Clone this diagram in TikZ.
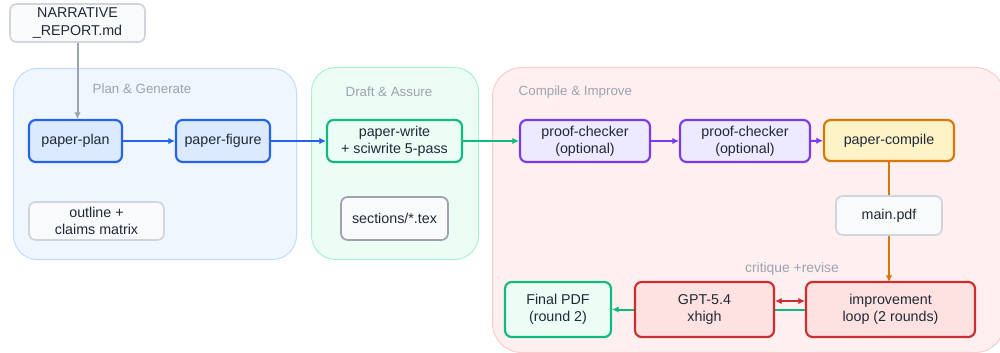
\documentclass[tikz,border=0pt]{standalone}
\usepackage{fontspec}
\setmainfont{Liberation Sans}
\usetikzlibrary{arrows.meta}
\definecolor{txt}{HTML}{1F2937}
\definecolor{grouplbl}{HTML}{9CA3AF}
\definecolor{bluefill}{HTML}{EFF6FF}
\definecolor{blueedge}{HTML}{BFDBFE}
\definecolor{greenfill}{HTML}{ECFDF5}
\definecolor{greenedge}{HTML}{A7F3D0}
\definecolor{redfill}{HTML}{FEF0F0}
\definecolor{rededge}{HTML}{FECACA}
\definecolor{bnode}{HTML}{DBEAFE}
\definecolor{bline}{HTML}{2563EB}
\definecolor{gnode}{HTML}{ECFDF5}
\definecolor{gline}{HTML}{10B981}
\definecolor{vnode}{HTML}{EDE9FE}
\definecolor{vline}{HTML}{7C3AED}
\definecolor{onode}{HTML}{FEF3C7}
\definecolor{oline}{HTML}{D97706}
\definecolor{rnode}{HTML}{FEE2E2}
\definecolor{rline}{HTML}{CC2E2E}
\definecolor{artfill}{HTML}{F9FAFB}
\definecolor{artline}{HTML}{D1D5DB}
\definecolor{darkgrey}{HTML}{9CA3AF}
\begin{document}
\begin{tikzpicture}[x=0.75pt,y=-0.75pt,
  font=\fontsize{10.7pt}{13pt}\selectfont,
  group/.style={draw, line width=0.75pt, rounded corners=18pt, inner sep=0pt, anchor=north west},
  glabel/.style={text=grouplbl, font=\fontsize{10pt}{12pt}\selectfont},
  box/.style={draw, line width=1.6pt, rounded corners=5pt, align=center, text=txt, inner sep=0pt},
  art/.style={box, draw=artline, fill=artfill, line width=1.3pt},
  arr/.style={line width=1.5pt, -{Latex[length=5pt,width=5pt]}},
]
\useasboundingbox (0,0) rectangle (1000,353);
% groups
\node[group, draw=blueedge, fill=bluefill, minimum width=283*0.75pt, minimum height=191*0.75pt] (g1) at (13,68) {};
\node[group, draw=greenedge, fill=greenfill, minimum width=167*0.75pt, minimum height=192*0.75pt] (g2) at (311,67) {};
\node[group, draw=rededge, fill=redfill, minimum width=512*0.75pt, minimum height=285*0.75pt, rounded corners=22pt] (g3) at (492,67) {};
\node[glabel] (l1) at (142,89) {Plan \& Generate};
\node[glabel] (l2) at (389,92) {Draft \& Assure};
\node[glabel, anchor=west] (l3) at (514,92) {Compile \& Improve};

% nodes
\node[art, minimum width=135*0.75pt, minimum height=38*0.75pt] (nr) at (77.5,23) {NARRATIVE\\\_REPORT.md};
\node[box, draw=bline, fill=bnode, minimum width=93*0.75pt, minimum height=42*0.75pt] (plan) at (75.5,141) {paper-plan};
\node[box, draw=bline, fill=bnode, minimum width=94*0.75pt, minimum height=42*0.75pt] (fig) at (223,141) {paper-figure};
\node[art, minimum width=135*0.75pt, minimum height=38*0.75pt] (out) at (96.5,221) {outline +\\claims matrix};
\node[box, draw=gline, fill=gnode, minimum width=135*0.75pt, minimum height=42*0.75pt] (write) at (394.5,141) {paper-write\\+ sciwrite 5-pass};
\node[art, draw=darkgrey, fill=artfill, minimum width=107*0.75pt, minimum height=43*0.75pt] (sec) at (394.5,218.5) {sections/*.tex};
\node[box, draw=vline, fill=vnode, minimum width=130*0.75pt, minimum height=42*0.75pt] (pc1) at (585,141) {proof-checker\\(optional)};
\node[box, draw=vline, fill=vnode, minimum width=130*0.75pt, minimum height=42*0.75pt] (pc2) at (745,141) {proof-checker\\(optional)};
\node[box, draw=oline, fill=onode, minimum width=130*0.75pt, minimum height=41*0.75pt] (comp) at (889,140.5) {paper-compile};

% connectors behind main.pdf and GPT
\draw[arr, color=oline] (comp.south) -- (889,282) coordinate (impt);
\node[art, minimum width=106*0.75pt, minimum height=39*0.75pt] (pdf) at (889,215.5) {main.pdf};

\node[box, draw=gline, fill=gnode, minimum width=106*0.75pt, minimum height=55*0.75pt] (final) at (558,309.5) {Final PDF\\(round 2)};
\node[box, draw=rline, fill=rnode, minimum width=169*0.75pt, minimum height=55*0.75pt] (imp) at (890.5,309.5) {improvement\\loop (2 rounds)};
\draw[arr, color=gline] (imp.west |- 0,309.5) -- (final.east |- 0,309.5);
\node[box, draw=rline, fill=rnode, minimum width=139*0.75pt, minimum height=55*0.75pt] (gpt) at (704.5,309.5) {GPT-5.4\\xhigh};
\draw[line width=1.5pt, color=rline, {Latex[length=5pt,width=5pt]}-{Latex[length=5pt,width=5pt]}] (gpt.east |- 0,301) -- (imp.west |- 0,301);
\node[glabel, font=\fontsize{10.4pt}{12pt}\selectfont] (crit) at (792,269) {critique +revise};

% main connectors
\draw[arr, color=darkgrey] (nr.south) -- (nr.south |- plan.north);
\draw[arr, color=bline] (plan) -- (fig);
\draw[arr, color=bline] (fig) -- (write);
\draw[arr, color=gline] (write) -- (pc1);
\draw[arr, color=vline] (pc1) -- (pc2);
\draw[arr, color=vline] (pc2) -- (comp);
\end{tikzpicture}
\end{document}
